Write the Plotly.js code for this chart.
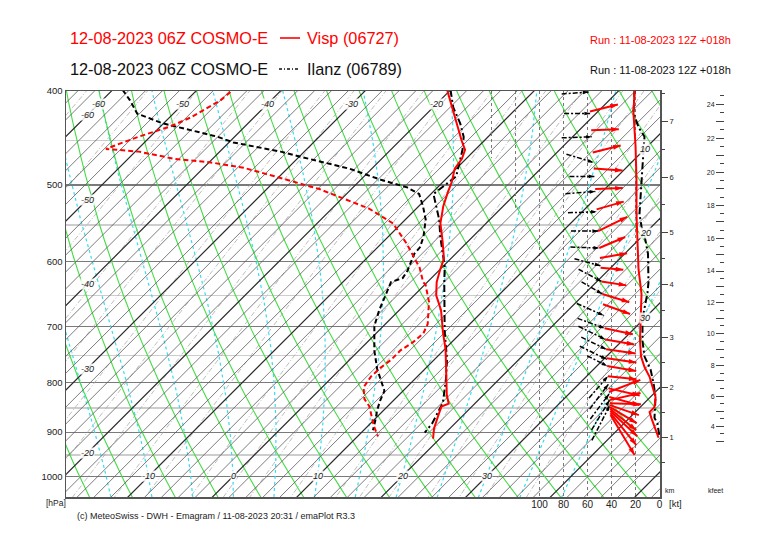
<!DOCTYPE html>
<html>
<head>
<meta charset="utf-8">
<script src="https://cdn.plot.ly/plotly-3.0.1.min.js"></script>
<style>html,body{margin:0;padding:0;background:#fff;}#chart{width:766px;height:541px;}</style>
</head>
<body>
<div id="chart"></div>
<script>
// ================= DATA =================
// Visp (06727) temperature profile [hPa, degC]
const vispTempP = [399,419,450,460,470,481,496,509,526,548,571,596,611,630,650,673,710,739,774,798,823,841,847,863,892,914];
const vispTemp  = [-20.4,-17.3,-12.7,-11.2,-10.5,-10.2,-9.0,-8.2,-7.1,-5.4,-3.1,-0.8,0.0,1.1,2.6,4.9,7.8,10.1,12.5,14.0,15.6,16.9,16.4,17.0,18.1,19.2];
// Visp dew point
const vispDewP = [401,409,426,435,446,459,462,470,474,480,491,505,529,548,575,593,609,630,634,660,696,712,727,741,758,772,788,809,832,846,866,887,909];
const vispDew  = [-45.8,-46.0,-47.5,-48.8,-51.4,-53.8,-49.6,-44.5,-39.8,-35.3,-30.1,-23.8,-15.6,-11.0,-7.0,-4.6,-2.6,-0.5,0.1,2.5,5.0,5.6,5.4,4.9,4.9,4.6,4.5,4.9,6.4,7.8,9.2,10.7,12.4];
// Ilanz (06789) temperature profile
const ilanzTempP = [399,416,432,446,460,474,490,511,526,543,566,585,607,630,662,710,756,792,816,839,860,882,901];
const ilanzTemp  = [-20.0,-17.6,-14.9,-12.9,-11.5,-10.4,-9.1,-9.7,-7.9,-6.0,-3.8,-1.9,0.2,2.0,4.5,8.0,11.4,13.6,14.9,16.1,16.7,17.3,17.5];
// Ilanz dew point
const ilanzDewP = [399,409,422,432,439,446,452,457,462,470,481,494,503,511,526,543,566,580,589,599,613,624,630,650,673,699,741,774,798,816,834,854,875,896];
const ilanzDew  = [-58.8,-56.7,-54.3,-50.1,-46.0,-42.0,-39.5,-36.1,-32.8,-28.6,-22.7,-17.6,-13.6,-11.4,-9.5,-7.6,-5.8,-5.0,-4.9,-4.4,-3.7,-3.4,-4.3,-3.4,-2.4,-1.1,1.8,4.3,6.3,7.8,8.4,9.2,10.2,11.1];
// Wind speed profiles [hPa, kt]
const vispSpdP = [399,422,455,494,536,580,611,648,671,723,752,771,789,807,828,848,858,871,890,902,912];
const vispSpd  = [20.8,21.7,20.0,19.2,19.2,18.3,17.5,15.0,15.4,16.3,15.4,12.5,8.3,5.8,3.3,4.2,8.3,6.7,4.2,2.5,0.8];
const ilanzSpdP = [399,421,436,446,460,478,504,536,552,564,589,630,646,671,687,725,752,775,801,828,870,882,911];
const ilanzSpd  = [20.8,21.7,17.5,12.5,13.3,14.2,15.8,16.7,15.0,12.5,9.6,9.2,10.0,12.5,14.2,14.2,12.5,7.5,5.0,3.3,4.2,1.7,0.0];
// Wind arrows: level [hPa], direction [deg, from], speed [kt]
const vispWindP   = [420,439,463,481,505,530,558,581,595,609,629,648,664,703,722,739,755,769,788,811,818,828,834,840,844,848,852,856,860,864];
const vispWindDir = [256,268,256,274,268,254,244,247,260,275,279,287,290,282,280,278,278,280,276,283,249,285,257,272,289,301,309,313,321,329];
const vispWindSpd = [24,23,24,24,23,23.5,27,23.5,23,19,21,23.5,24,24,24.5,25,25,24.5,24,26.5,28,26,26.5,26,25.5,26,28,30.7,34.3,38.9];
const ilanzWindP   = [401,422,446,474,490,508,533,558,581,606,629,648,682,703,722,739,757,769,788,803,822,834,844];
const ilanzWindDir = [266,270,268,287,270,266,268,270,272,285,298,300,294,290,296,296,296,297,221,217,217,211,207];
const ilanzWindSpd = [22.5,21.7,25,23.5,20.8,25,24,22.5,24,22.4,21.6,20,24.6,24,25,23,25,18.6,24,26,26,29,33];
// Pressure axis
const pressTicks = [400,500,600,700,800,900,1000];
const pressMinor = [450,550,650,750,850,950];
// Height axes (pressure where each height is reached)
const kmVals = [1,2,3,4,5,6,7];
const kmP    = [911.0,808.8,718.0,633.3,559.6,491.2,429.9];
const kftVals = [4,6,8,10,12,14,16,18,20,22,24];
const kftP    = [887.5,826.3,768.1,712.2,661.5,613.6,567.6,525.1,485.1,447.4,412.6];
// Wind speed axis
const ktTicks = [0,20,40,60,80,100];
// Isotherm labels
const isoLabLeft = [-60,-50,-40,-30,-20];
const isoLabTop = [-60,-50,-40,-30,-20];
const isoLabBottom = [-10,0,10,20,30];
const isoLabRight = [10,20,30];
// Background line families
const mixRatios = [0.01,0.02,0.05,0.1,0.2,0.3,0.5,0.7,1,1.5,2,3,4,5,7,10,12,15,20,25,30,40];
const satThetaW = [-15,-10,-5,0,5,10,15,20,25,30,35,40];

// ================= GEOMETRY =================
const P_TOP = 400, P_BOT = 1050;
const L = 66, R = 660, TP = 91, B = 497, PAPER_R = 736;
const PX_C = 8.45, ZERO_X = 233;
const PX_LNP = (B - TP) / Math.log(P_BOT / P_TOP);
const SKEW = PX_LNP / PX_C;
const KT_PX = 1.2;
const xs = (t, p) => t + SKEW * Math.log(1000 / p);
const pY = p => TP + PX_LNP * Math.log(p / P_TOP);
const yP = y => P_TOP * Math.exp((y - TP) / PX_LNP);
const xdPx = px => (px - ZERO_X) / PX_C;
const paperX = px => (px - L) / (PAPER_R - L);
const paperY = py => (B - py) / (B - TP);
const XD0 = xdPx(L), XD1 = xdPx(R);
const lg = Math.log10;
const FONT = 'Liberation Sans, Arial, sans-serif';

const traces = [];
function addLine(x, y, line, xa, ya) {
  traces.push({type:'scatter', mode:'lines', x:x, y:y, line:line, xaxis:xa||'x', yaxis:ya||'y',
    hoverinfo:'skip', showlegend:false, connectgaps:false});
}

// ---- mixing ratio lines (grey dash-dot)
(function(){
  const X=[],Y=[];
  mixRatios.forEach(w=>{
    for(let p=370;p<=1080;p+=15){
      const e = w*p/(622+w);
      const a = Math.log(e/6.112);
      const td = 243.5*a/(17.67-a);
      X.push(xs(td,p)); Y.push(p);
    }
    X.push(null); Y.push(null);
  });
  addLine(X,Y,{color:'#a0a0a0',width:0.7,dash:'5px,2px,1px,2px'});
})();

// ---- saturated adiabats (cyan dotted)
(function(){
  const Rd=287.04, cp=1005.7, Lv=2.501e6, eps=0.622;
  function dTdp(T,p){
    const tc=T-273.15; const es=6.112*Math.exp(17.67*tc/(tc+243.5));
    const rs=eps*es/(p-es);
    return (Rd*T+Lv*rs)/(p*(cp+Lv*Lv*rs*eps/(Rd*T*T)));
  }
  const X=[],Y=[];
  satThetaW.forEach(tw=>{
    const up=[], dn=[];
    let T=tw+273.15, p=1000;
    while(p>360){ if(Math.round(p)%10===0) up.push([T,p]);
      const h=-2; const k1=dTdp(T,p), k2=dTdp(T+h*k1/2,p+h/2); T+=h*k2; p+=h; }
    T=tw+273.15; p=1000;
    while(p<1080){ p+=2; T+=2*dTdp(T,p-1); if(Math.round(p)%10===0) dn.push([T,p]); }
    const pts = dn.reverse().concat(up);
    pts.forEach(q=>{X.push(xs(q[0]-273.15,q[1])); Y.push(q[1]);});
    X.push(null); Y.push(null);
  });
  addLine(X,Y,{color:'#38dcf2',width:1.2,dash:'dot'});
})();

// ---- dry adiabats (green)
(function(){
  const X=[],Y=[];
  for(let th=245; th<=370; th+=5){
    for(let p=370;p<=1080;p+=20){ const T=th*Math.pow(p/1000,0.2857)-273.15; X.push(xs(T,p)); Y.push(p); }
    X.push(null); Y.push(null);
  }
  addLine(X,Y,{color:'#44dd44',width:1.1});
})();

// ---- isotherms
(function(){
  const tx=[],ty=[],kx=[],ky=[];
  for(let t=-70;t<=56;t+=2){
    const ax = (t%10===0)?kx:tx, ay=(t%10===0)?ky:ty;
    ax.push(xs(t,1100),xs(t,370),null); ay.push(1100,370,null);
  }
  addLine(tx,ty,{color:'#5a5a5a',width:0.8});
  addLine(kx,ky,{color:'#2a2a2a',width:1.2});
})();

// ---- partial dotted speed lines at 120/140 kt
addLine([140,140],[P_TOP,469],{color:'#777',width:1,dash:'dot'},'x2','y');
addLine([120,120],[P_TOP,528],{color:'#777',width:1,dash:'dot'},'x2','y');

// ---- profiles
addLine(ilanzDew.map((t,i)=>xs(t,ilanzDewP[i])), ilanzDewP, {color:'#000',width:2,dash:'5px,3px'});
addLine(ilanzTemp.map((t,i)=>xs(t,ilanzTempP[i])), ilanzTempP, {color:'#000',width:2,dash:'7px,3px,2px,3px'});
addLine(vispDew.map((t,i)=>xs(t,vispDewP[i])), vispDewP, {color:'#ff0000',width:2,dash:'5px,3px'});
addLine(vispTemp.map((t,i)=>xs(t,vispTempP[i])), vispTempP, {color:'#ff0000',width:2});

// ---- wind speed curves
addLine(ilanzSpd, ilanzSpdP, {color:'#000',width:2,dash:'7px,3px,2px,3px'},'x2','y');
addLine(vispSpd, vispSpdP, {color:'#ff0000',width:2},'x2','y');

// ---- wind arrows
const anchorPx = p => 590 + 20*(pY(p)-112)/295;
function windArrows(P,D,S,color,dash,width,mode,sym,msize){
  const lx=[],ly=[],hx=[],hy=[],ang=[];
  P.forEach((p,i)=>{
    const ax=anchorPx(p), ay=pY(p);
    const bdeg=(D[i]+180)%360, b=bdeg*Math.PI/180, len=S[i]*KT_PX;
    const dx=len*Math.sin(b), dy=-len*Math.cos(b);
    let x1,y1,x2,y2;
    if(mode==='tail'){x1=ax;y1=ay;x2=ax+dx;y2=ay+dy;} else {x2=ax;y2=ay;x1=ax-dx;y1=ay-dy;}
    lx.push(xdPx(x1),xdPx(x2),null); ly.push(yP(y1),yP(y2),null);
    hx.push(xdPx(x2)); hy.push(yP(y2)); ang.push(bdeg);
  });
  addLine(lx,ly,{color:color,width:width,dash:dash});
  traces.push({type:'scatter',mode:'markers',x:hx,y:hy,xaxis:'x',yaxis:'y',hoverinfo:'skip',showlegend:false,
    marker:{symbol:sym,size:msize,color:color,angle:ang,line:{width:0}}});
}
windArrows(ilanzWindP,ilanzWindDir,ilanzWindSpd,'#000','5px,2px,2px,2px',1.5,'head','arrow',6);
windArrows(vispWindP,vispWindDir,vispWindSpd,'#ff0000','solid',2,'tail','arrow',8);

// dummy traces so the extra axes render
traces.push({type:'scatter',mode:'markers',x:[0],y:[500],xaxis:'x',yaxis:'y2',marker:{opacity:0},hoverinfo:'skip',showlegend:false});
traces.push({type:'scatter',mode:'markers',x:[0],y:[500],xaxis:'x',yaxis:'y3',marker:{opacity:0},hoverinfo:'skip',showlegend:false});
traces.push({type:'scatter',mode:'markers',x:[50],y:[500],xaxis:'x2',yaxis:'y',marker:{opacity:0},hoverinfo:'skip',showlegend:false});

// ---- height axis ticks
function logInterp(vals, ps, v){
  let i=0; while(i<vals.length-2 && v>vals[i+1]) i++;
  const f=(v-vals[i])/(vals[i+1]-vals[i]);
  return Math.exp(Math.log(ps[i])+f*(Math.log(ps[i+1])-Math.log(ps[i])));
}
const kmMinorV=[]; for(let v=0.5; v<=7.5; v+=0.5){ if(v%1!==0) kmMinorV.push(logInterp(kmVals,kmP,v)); }
const kftMajV=[], kftMajT=[], kftMinV=[];
for(let v=3; v<=24; v+=1){ kftMajV.push(logInterp(kftVals,kftP,v)); kftMajT.push(v%2===0?String(v):''); }
for(let v=3.5; v<=24.5; v+=1){ kftMinV.push(logInterp(kftVals,kftP,v)); }

// ---- annotations
const ann=[];
function txt(px,py,text,size,color,xanchor,extra){
  ann.push(Object.assign({xref:'paper',yref:'paper',x:paperX(px),y:paperY(py),text:text,showarrow:false,
    xanchor:xanchor||'left',yanchor:'middle',font:{family:FONT,size:size,color:color}},extra||{}));
}
txt(68,38,'12-08-2023 06Z COSMO-E',16.3,'#ff0000');
txt(305,38,'Visp (06727)',16.3,'#ff0000');
txt(733,40,'Run : 11-08-2023 12Z +018h',11,'#ff0000','right');
txt(68,69,'12-08-2023 06Z COSMO-E',16.3,'#111');
txt(305,69,'Ilanz (06789)',16.3,'#111');
txt(733,70,'Run : 11-08-2023 12Z +018h',11,'#111','right');
txt(75,516,'(c) MeteoSwiss - DWH - Emagram / 11-08-2023 20:31 / emaPlot R3.3',9,'#222');
txt(44,503,'[hPa]',8.5,'#222');
txt(667,503,'[kt]',9.5,'#222');
txt(663,490,'km',7,'#222');
txt(706,490,'kfeet',7,'#222');

function isoLab(t,p){
  ann.push({xref:'x',yref:'y',x:xs(t,p),y:lg(p),text:String(t),showarrow:false,xanchor:'center',yanchor:'middle',
    font:{family:FONT,size:9,color:'#222',style:'italic'},bgcolor:'rgba(255,255,255,0.85)',borderpad:0});
}
const xdLeft = xdPx(87), pTopRow = yP(104), xdRight = xdPx(645);
isoLabLeft.forEach(t=>isoLab(t,1000*Math.exp(-(xdLeft-t)/SKEW)));
isoLabTop.forEach(t=>isoLab(t,pTopRow));
isoLabBottom.forEach(t=>isoLab(t,1000));
isoLabRight.forEach(t=>isoLab(t,1000*Math.exp(-(xdRight-t)/SKEW)));

const shapes=[
  {type:'line',xref:'paper',yref:'paper',x0:paperX(280),x1:paperX(300),y0:paperY(38),y1:paperY(38),line:{color:'#ff0000',width:1.6}},
  {type:'line',xref:'paper',yref:'paper',x0:paperX(279),x1:paperX(298),y0:paperY(69),y1:paperY(69),line:{color:'#111',width:1.4,dash:'3px,2px,1px,2px'}}
];

const xDomEnd = (R-L)/(PAPER_R-L);
const layout={
  width:766,height:541,margin:{l:L,r:766-PAPER_R,t:TP,b:541-B},
  paper_bgcolor:'#fff',plot_bgcolor:'#fff',showlegend:false,
  font:{family:FONT,color:'#222'},
  xaxis:{domain:[0,xDomEnd],range:[XD0,XD1],showgrid:false,zeroline:false,showticklabels:false,ticks:'',
    showline:true,mirror:true,linecolor:'#555',linewidth:1.5,fixedrange:true},
  xaxis2:{overlaying:'x',anchor:'y',side:'bottom',range:[(R-L)/KT_PX-0.4,-0.4],tickmode:'array',tickvals:ktTicks,
    ticks:'',showgrid:true,gridcolor:'#777',griddash:'dot',gridwidth:1,zeroline:false,showline:false,
    tickfont:{size:10,color:'#222'},ticklabelstandoff:0},
  yaxis:{type:'log',range:[lg(P_BOT),lg(P_TOP)],tickmode:'array',tickvals:pressTicks,ticktext:pressTicks.map(String),
    ticks:'',showgrid:true,gridcolor:'#7a7a7a',gridwidth:1.3,zeroline:false,showline:true,mirror:true,linecolor:'#555',linewidth:1.5,
    tickfont:{size:9.5,color:'#222'},
    minor:{tickmode:'array',tickvals:pressMinor,showgrid:true,gridcolor:'#cdcdcd',gridwidth:1.5,ticks:''}},
  yaxis2:{type:'log',overlaying:'y',anchor:'free',position:xDomEnd,side:'right',range:[lg(P_BOT),lg(P_TOP)],
    tickmode:'array',tickvals:kmP,ticktext:kmVals.map(String),ticks:'outside',ticklen:7,tickwidth:1,tickcolor:'#444',
    showgrid:false,zeroline:false,showline:false,tickfont:{size:7.5,color:'#222'},
    minor:{tickmode:'array',tickvals:kmMinorV,ticks:'outside',ticklen:4,tickwidth:1,tickcolor:'#444',showgrid:false}},
  yaxis3:{type:'log',overlaying:'y',anchor:'free',position:(724-L)/(PAPER_R-L),side:'left',range:[lg(P_BOT),lg(P_TOP)],
    tickmode:'array',tickvals:kftMajV,ticktext:kftMajT,ticks:'outside',ticklen:8,tickwidth:1,tickcolor:'#444',
    showgrid:false,zeroline:false,showline:false,tickfont:{size:7,color:'#222'},
    minor:{tickmode:'array',tickvals:kftMinV,ticks:'outside',ticklen:4,tickwidth:1,tickcolor:'#444',showgrid:false}},
  annotations:ann,shapes:shapes
};
Plotly.newPlot('chart',traces,layout,{staticPlot:true,displayModeBar:false});
</script>
</body>
</html>
